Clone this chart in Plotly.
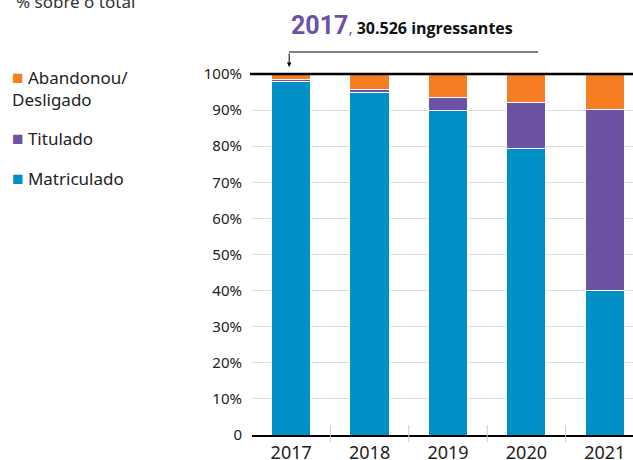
import plotly.graph_objects as go

years = ["2017", "2018", "2019", "2020", "2021"]
matriculado = [98.0, 94.9, 90.0, 79.4, 40.0]
titulado = [0.4, 0.9, 3.6, 12.6, 50.3]
abandonou = [1.6, 4.2, 6.4, 8.0, 9.7]

y_ticks = [0, 10, 20, 30, 40, 50, 60, 70, 80, 90, 100]
y_labels = ["0"] + [f"{v}%" for v in y_ticks[1:]]

BLUE = "#0090c5"
PURPLE = "#6b52a2"
ORANGE = "#f57d22"
FONT = "Noto Sans"

# plot area in pixels: left 252, right 633, top 74, bottom 435
L, R, T, B = 252, 633, 74, 435


def px(x):
    return (x - L) / (R - L)


def py(y):
    return (B - y) / (B - T)


fig = go.Figure()
for name, vals, color in [
    ("Matriculado", matriculado, BLUE),
    ("Titulado", titulado, PURPLE),
    ("Abandonou/Desligado", abandonou, ORANGE),
]:
    fig.add_trace(
        go.Bar(
            x=years,
            y=vals,
            name=name,
            width=0.5,
            marker=dict(color=color, line=dict(color="white", width=1)),
            showlegend=False,
            hoverinfo="skip",
        )
    )

shapes = [
    # line on top of the 100% mark
    dict(type="line", xref="paper", yref="paper", x0=px(250), x1=1, y0=1, y1=1,
         line=dict(color="black", width=2.5)),
    # bracket line for the annotation
    dict(type="line", xref="paper", yref="paper", x0=px(289), x1=px(538),
         y0=py(52), y1=py(52), line=dict(color="black", width=1)),
]
for b in [0.5, 1.5, 2.5, 3.5]:
    shapes.append(
        dict(type="line", xref="x", yref="paper", x0=b, x1=b, y0=py(442), y1=py(425),
             line=dict(color="#cccccc", width=1))
    )

annotations = [
    dict(xref="paper", yref="paper", x=px(14), y=py(2), xanchor="left", yanchor="middle",
         text="% sobre o total", showarrow=False, font=dict(family=FONT, size=17, color="#333")),
    dict(xref="paper", yref="paper", x=px(289), y=py(42), xanchor="left", yanchor="bottom",
         text="<span style='font-family:Roboto;font-weight:bold;"
              "font-size:25px;color:" + PURPLE + "'>2017</span>"
              "<span style='color:" + PURPLE + "'>,</span> <b>30.526 ingressantes</b>",
         showarrow=False, font=dict(family="Open Sans", size=16, color="#111")),
    dict(xref="x", yref="paper", x=0, xshift=-2, y=py(67), ax=0, ay=-15, text="",
         showarrow=True, arrowhead=2, arrowsize=0.9, arrowwidth=1, arrowcolor="black",
         standoff=0),
]

legend_items = [
    ("Abandonou/<br>Desligado", ORANGE, 88),
    ("Titulado", PURPLE, 138),
    ("Matriculado", BLUE, 178),
]
for text, color, yc in legend_items:
    annotations.append(
        dict(xref="paper", yref="paper", x=px(10), y=py(yc), xanchor="left", yanchor="middle",
             align="left",
             text=f"<span style='color:{color};font-size:19px'>■</span> {text}",
             showarrow=False, font=dict(family=FONT, size=17, color="#222"))
    )

fig.update_layout(
    width=633,
    height=460,
    margin=dict(l=L, r=633 - R, t=T, b=460 - B),
    barmode="stack",
    bargap=0.5,
    plot_bgcolor="white",
    paper_bgcolor="white",
    font=dict(family=FONT, size=15, color="#222"),
    shapes=shapes,
    annotations=annotations,
    xaxis=dict(
        range=[-0.5, 4.36],
        showline=True,
        linecolor="black",
        linewidth=2,
        showgrid=False,
        ticks="",
        ticklabelstandoff=0,
        tickfont=dict(size=18, color="#222"),
        automargin=False,
        fixedrange=True,
    ),
    yaxis=dict(
        range=[0, 100],
        tickvals=y_ticks,
        ticktext=y_labels,
        showgrid=True,
        gridcolor="#dddddd",
        gridwidth=1,
        zeroline=False,
        ticks="",
        ticklabelstandoff=9,
        tickfont=dict(size=15, color="#222"),
        automargin=False,
        fixedrange=True,
    ),
)

fig.write_html(
    "out.html",
    config={"displayModeBar": False},
    post_script="document.body.style.margin='0';document.body.style.overflow='hidden';",
)
